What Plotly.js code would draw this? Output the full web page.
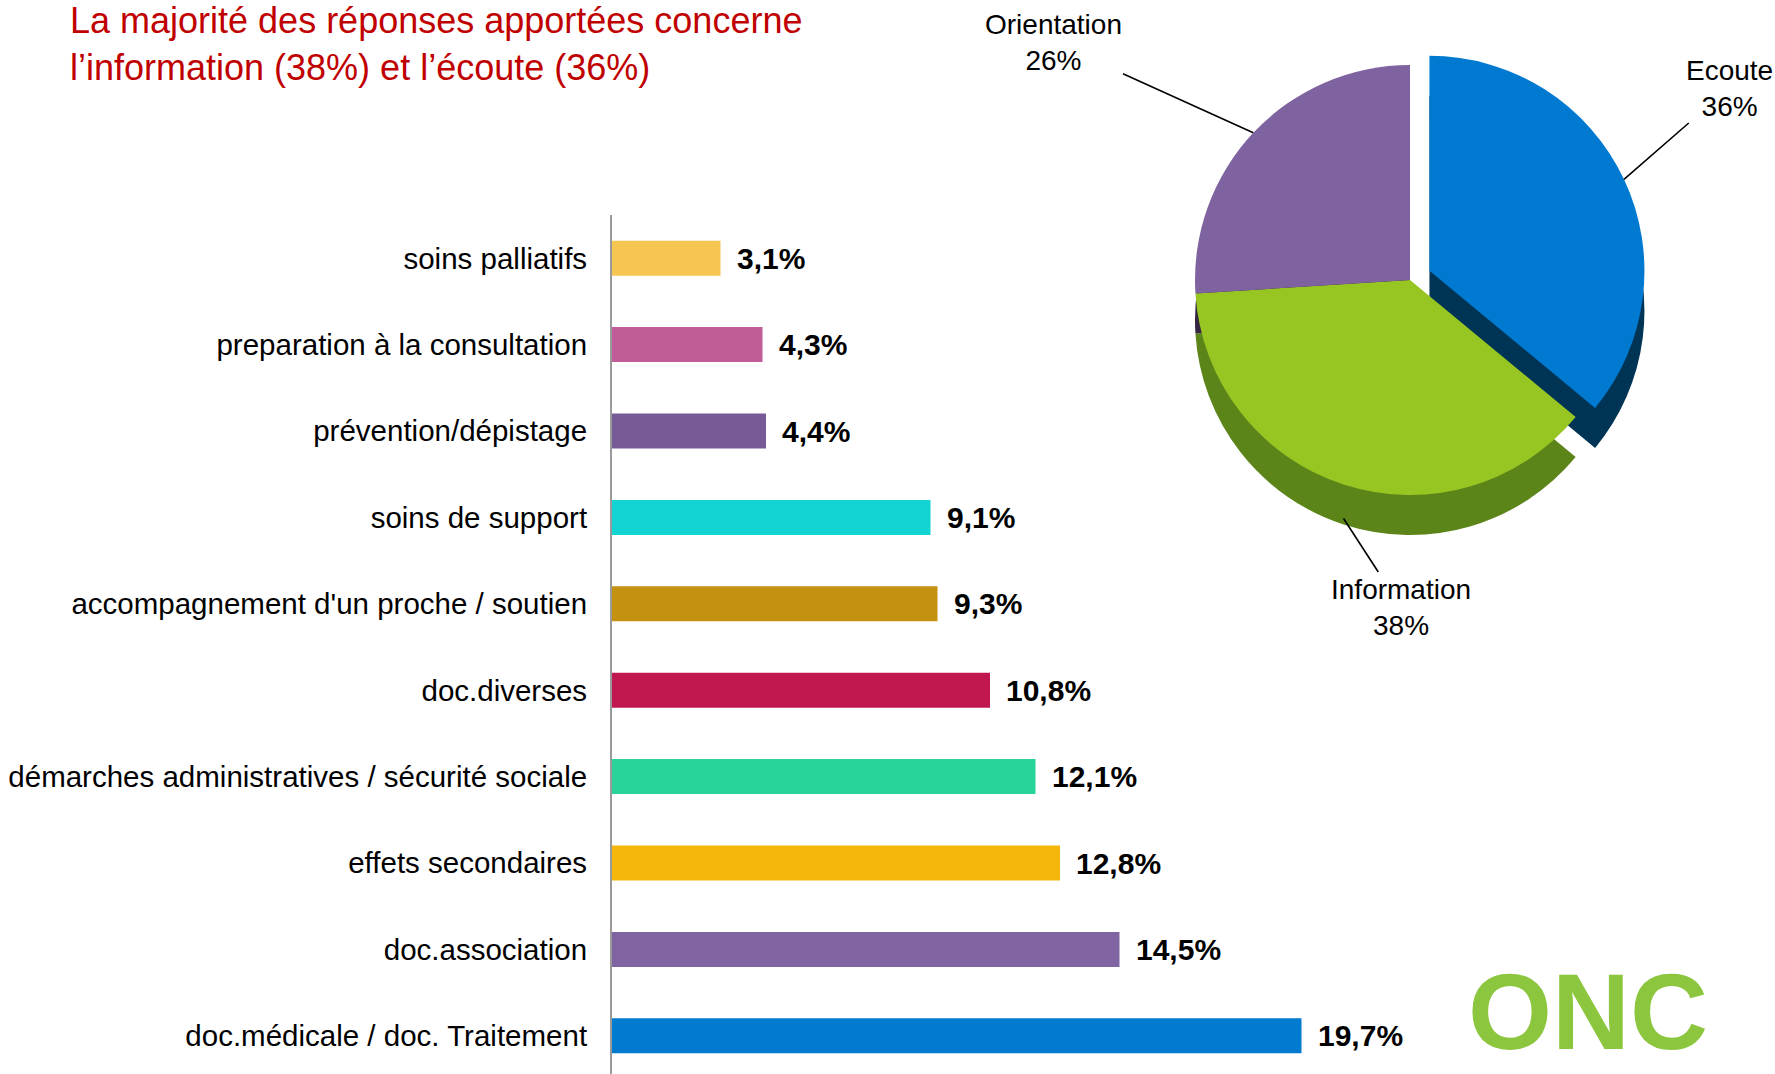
<!DOCTYPE html>
<html>
<head>
<meta charset="utf-8">
<script src="https://cdn.plot.ly/plotly-3.0.1.min.js"></script>
<style>html,body{margin:0;padding:0;background:#fff;}#chart{width:1775px;height:1074px;}</style>
</head>
<body>
<div id="chart"></div>
<script>
// ---- Data ----
const categories = ["soins palliatifs","preparation à la consultation","prévention/dépistage","soins de support","accompagnement d'un proche / soutien","doc.diverses","démarches administratives / sécurité sociale","effets secondaires","doc.association","doc.médicale / doc. Traitement"];
const values = [3.1, 4.3, 4.4, 9.1, 9.3, 10.8, 12.1, 12.8, 14.5, 19.7];
const barColors = ["#F7C652","#C05C97","#765A96","#12D5D3","#C59110","#C0174F","#29D49B","#F5B70A","#8064A1","#007BD0"];

const pieLabels = ["Ecoute","Information","Orientation"];
const pieValues = [36, 38, 26];
const pieTopColors = ["#0079D0","#97C623","#7F63A0"];
const pieSideColors = ["#003455","#5C8519","#35273F"];
const piePull = [0.1, 0, 0];

const titleText = "La majorité des réponses apportées concerne<br>l’information (38%) et l’écoute (36%)";

// ---- Layout helpers ----
const W = 1775, H = 1074;
const FONT = "Liberation Sans, Arial, sans-serif";
const axisLeft = 612, axisRightPx = 1500, pxPerUnit = 35;
const plotTop = 215;

const pieCx = 1410, pieCy = 280, pieR = 215, maxPull = 0.1, depth = 40;
const pieHalf = pieR * (1 + maxPull);
function pieDomain(cy) {
  return {
    x: [(pieCx - pieHalf) / W, (pieCx + pieHalf) / W],
    y: [1 - (cy + pieHalf) / H, 1 - (cy - pieHalf) / H]
  };
}

const barTrace = {
  type: "bar",
  orientation: "h",
  x: values,
  y: categories,
  width: 0.405,
  marker: { color: barColors },
  hoverinfo: "x+y",
  showlegend: false
};

const sidePie = {
  type: "pie",
  labels: pieLabels,
  values: pieValues,
  sort: false,
  direction: "clockwise",
  rotation: 0,
  pull: piePull,
  marker: { colors: pieSideColors, line: { width: 0 } },
  textinfo: "none",
  hoverinfo: "skip",
  domain: pieDomain(pieCy + depth),
  showlegend: false
};
const topPie = {
  type: "pie",
  labels: pieLabels,
  values: pieValues,
  sort: false,
  direction: "clockwise",
  rotation: 0,
  pull: piePull,
  marker: { colors: pieTopColors, line: { width: 0 } },
  textinfo: "none",
  hoverinfo: "label+percent",
  domain: pieDomain(pieCy),
  showlegend: false
};

// Value labels next to bars
const annotations = values.map((v, i) => ({
  x: v, y: categories[i], xref: "x", yref: "y",
  text: "<b>" + v.toFixed(1).replace(".", ",") + "%</b>",
  showarrow: false, xanchor: "left", yanchor: "middle", xshift: 14,
  font: { family: FONT, size: 30, color: "#000" }
}));

// Pie labels with leader lines, pointing at slice edges computed from the values
const total = pieValues.reduce((a, b) => a + b, 0);
let cum = 0;
const labelPos = [[1729, 88], [1401, 607], [1053, 42]];
const edgeExtra = [0, depth * 0.85, 0];
pieValues.forEach((v, i) => {
  const mid = (cum + v / 2) / total * 2 * Math.PI;
  cum += v;
  const rr = pieR * (1 + piePull[i]);
  const px = pieCx + rr * Math.sin(mid);
  const py = pieCy - rr * Math.cos(mid) + edgeExtra[i];
  annotations.push({
    x: px / W, y: 1 - py / H, xref: "paper", yref: "paper",
    ax: labelPos[i][0] - px, ay: labelPos[i][1] - py,
    text: pieLabels[i] + "<br>" + v + "%",
    showarrow: true, arrowhead: 0, arrowwidth: 1.6, arrowcolor: "#000", standoff: 0,
    font: { family: FONT, size: 28, color: "#000" }
  });
});

// Logo text
annotations.push({
  x: 1466 / W, y: 0, xref: "paper", yref: "paper",
  xanchor: "left", yanchor: "bottom", showarrow: false,
  text: "<b>ONC</b>",
  font: { family: FONT, size: 108, color: "#8CC63F" }
});

const layout = {
  width: W, height: H,
  margin: { l: 0, r: 0, t: 0, b: 0 },
  paper_bgcolor: "#fff", plot_bgcolor: "rgba(0,0,0,0)",
  title: {
    text: titleText, x: 70 / W, xanchor: "left", xref: "container",
    y: 1 - 33 / H, yanchor: "top", yref: "container",
    font: { family: FONT, size: 36, color: "#C00000" }
  },
  xaxis: {
    domain: [axisLeft / W, axisRightPx / W],
    range: [0, (axisRightPx - axisLeft) / pxPerUnit],
    showgrid: false, zeroline: false, showticklabels: false, showline: false, ticks: ""
  },
  yaxis: {
    domain: [0, 1 - plotTop / H],
    type: "category",
    categoryorder: "array", categoryarray: categories,
    range: [-0.5 + (H - plotTop) / 86.4, -0.5],
    showgrid: false, zeroline: false,
    showline: true, linecolor: "#999", linewidth: 2,
    ticks: "", ticklabelstandoff: 17,
    tickfont: { family: FONT, size: 29.5, color: "#000" }
  },
  annotations: annotations,
  showlegend: false
};

Plotly.newPlot("chart", [barTrace, sidePie, topPie], layout, { displayModeBar: false, staticPlot: true });
</script>
</body>
</html>
